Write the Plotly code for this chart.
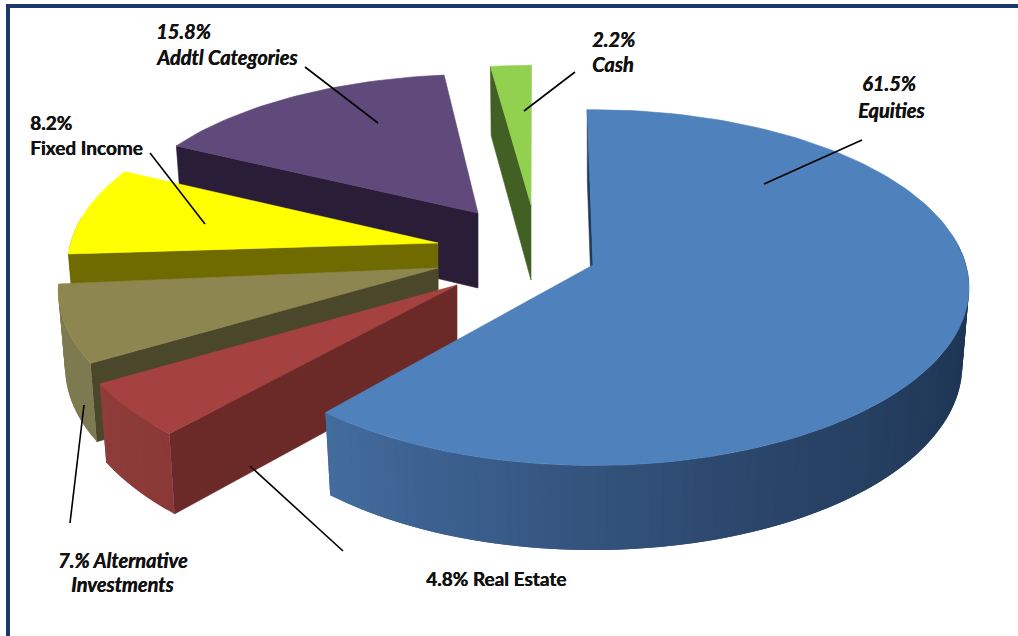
import numpy as np
import plotly.graph_objects as go

# Portfolio allocation, in percent, clockwise from twelve o'clock
categories = ["Equities", "Real Estate", "Alternative Investments",
              "Fixed Income", "Addtl Categories", "Cash"]
shares = [61.5, 4.8, 7.0, 8.2, 15.8, 2.2]

# Exploded-slice placement on the canvas
hub_x = [593, 457, 438, 438, 478, 531]
hub_y = [265, 285, 268, 243, 213, 205]
radius_scale = [1.0, 1.04, 1.01, 0.985, 0.96, 0.9]
depth_scale = [1.0, 1.0, 1.0, 1.0, 0.93, 1.0]
angle_turn = [-1.0, 0.8, 1.0, 2.5, 3.6, 1.9]
slab_depth = [77, 75, 75, 75, 75, 75]

# Slice colours: top face, cut face, rim at its start and end
top_colors = ["#4f81bd", "#a5423f", "#8d8651", "#ffff00", "#604a7b", "#92d050"]
cut_colors = ["#1f3a5c", "#6b2a28", "#4b472a", "#6f6b00", "#2a1d38", "#425f24"]
rim_stops = [
    [(0.0, "#1c3350"), (0.45, "#1c3350"), (0.72, "#2b466b"), (1.0, "#436c9e")],
    [(0.0, "#8a3937"), (1.0, "#8f3d3b")],
    [(0.0, "#7e7a50"), (1.0, "#7e7a50")],
    [(0.0, "#6f6b00"), (1.0, "#6f6b00")],
    [(0.0, "#2a1d38"), (1.0, "#2a1d38")],
    [(0.0, "#425f24"), (1.0, "#425f24")],
]

# Perspective of the disk and taper of the slab
RX, RY, TILT, TAPER = 373.0, 175.0, 0.127, 0.982

# Text, x, y, anchor, font size
label_lines = [
    ("<i><b>15.8%</b></i>", 154, 31, "left", 20),
    ("<i><b>Addtl Categories</b></i>", 154, 57, "left", 20),
    ("<i><b>2.2%</b></i>", 613, 39, "center", 20),
    ("<i><b>Cash</b></i>", 613, 64, "center", 20),
    ("<i><b>61.5%</b></i>", 889, 83, "center", 20),
    ("<i><b>Equities</b></i>", 891, 110, "center", 20),
    ("<b>8.2%</b>", 28, 122, "left", 19),
    ("<b>Fixed Income</b>", 28, 147, "left", 19),
    ("<i><b>7.% Alternative</b></i>", 123, 560, "center", 20),
    ("<i><b>Investments</b></i>", 122, 584, "center", 20),
    ("<b>4.8% Real Estate</b>", 496, 578, "center", 19),
]
leaders = [
    (305, 67, 378, 123),
    (575, 72, 524, 111),
    (862, 140, 764, 184),
    (150, 153, 205, 224),
    (70, 523, 84, 405),
    (343, 551, 250, 466),
]


def hex_rgb(c):
    return np.array([int(c[i:i + 2], 16) for i in (1, 3, 5)], dtype=float)


def blend(stops, t):
    pos = [s[0] for s in stops]
    ch = np.array([hex_rgb(s[1]) for s in stops])
    r, g, b = (np.interp(t, pos, ch[:, k]) for k in range(3))
    return f"rgb({r:.0f},{g:.0f},{b:.0f})"


def disk(deg, scale, squash=1.0):
    """Project a clockwise angle on the unit disk to an offset from the hub."""
    a = np.radians(deg)
    u, v = np.sin(a), -np.cos(a)
    w = 1 - TILT * v
    return RX * u * scale / w, RY * v * scale * squash / w, w


def add_poly(fig, xs, ys, color, edge=0.6):
    fig.add_trace(go.Scatter(
        x=list(xs) + [xs[0]], y=list(ys) + [ys[0]], mode="lines", fill="toself",
        fillcolor=color, line=dict(color=color, width=edge),
        hoverinfo="skip", showlegend=False))


fig = go.Figure()
edges = np.cumsum([0.0] + shares) * 3.6
slice_range = list(zip(edges[:-1], edges[1:]))

# Back slices first so nearer ones paint over them
for i in [5, 4, 3, 2, 1, 0]:
    a0 = slice_range[i][0] + angle_turn[i]
    a1 = slice_range[i][1] + angle_turn[i]
    hx, hy, sc, sq, dp = hub_x[i], hub_y[i], radius_scale[i], depth_scale[i], slab_depth[i]

    # Cut face along the leading edge of the wedge
    ox, oy, ow = disk(a0, sc, sq)
    add_poly(fig,
             [hx, hx + ox, hx + ox * TAPER, hx],
             [hy, hy + oy, hy + oy * TAPER + dp / ow, hy + dp],
             cut_colors[i])

    # Curved rim: overlapping narrow strips, only where it faces the viewer
    n = max(4, int((a1 - a0) / 1.5))
    ang = np.linspace(a0, a1, n + 1)
    ux, uy, uw = disk(ang, sc, sq)
    facing = -np.cos(np.radians(ang)) > -0.12
    for k in range(n):
        if not facing[k + 1] and not facing[k]:
            continue
        j = min(k + 2, n)
        t = (k + 0.5) / n
        add_poly(fig,
                 [hx + ux[k], hx + ux[j], hx + ux[j] * TAPER, hx + ux[k] * TAPER],
                 [hy + uy[k], hy + uy[j],
                  hy + uy[j] * TAPER + dp / uw[j],
                  hy + uy[k] * TAPER + dp / uw[k]],
                 blend(rim_stops[i], t), edge=0)

    # Top face of the wedge
    add_poly(fig, [hx] + list(hx + ux), [hy] + list(hy + uy), top_colors[i])

shapes = [
    dict(type="rect", x0=6, x1=1018, y0=4, y1=8, fillcolor="#1b3a6b", line_width=0),
    dict(type="rect", x0=6, x1=10, y0=4, y1=636, fillcolor="#1b3a6b", line_width=0),
]
for x0, y0, x1, y1 in leaders:
    shapes.append(dict(type="line", x0=x0, y0=y0, x1=x1, y1=y1,
                       line=dict(color="#000000", width=1.6)))

annotations = [
    dict(x=x, y=y, text=txt, showarrow=False, xanchor=anchor, yanchor="middle",
         align=anchor,
         font=dict(family="Lato", size=size, color="#111111",
                   shadow="0.4px 0 0 #111111"))
    for txt, x, y, anchor, size in label_lines
]

fig.update_layout(
    width=1018, height=636, autosize=False,
    margin=dict(l=0, r=0, t=0, b=0),
    paper_bgcolor="#ffffff", plot_bgcolor="#ffffff", showlegend=False,
    xaxis=dict(range=[0, 1018], visible=False, fixedrange=True),
    yaxis=dict(range=[636, 0], visible=False, fixedrange=True),
    shapes=shapes, annotations=annotations,
)
fig.write_html("out.html", config={"displayModeBar": False})
